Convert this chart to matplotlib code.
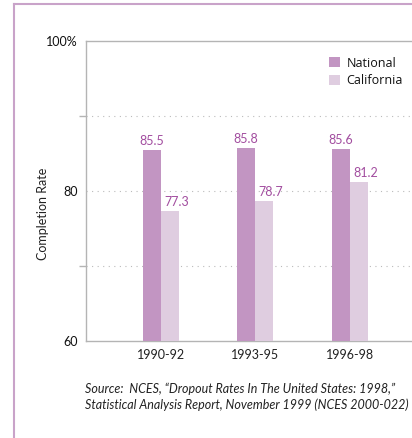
import matplotlib.pyplot as plt
from matplotlib.lines import Line2D
import numpy as np

periods = ["1990-92", "1993-95", "1996-98"]
national = [85.5, 85.8, 85.6]
california = [77.3, 78.7, 81.2]

NAT_COLOR = "#c295c2"
CAL_COLOR = "#dfcde0"
LABEL_COLOR = "#a24d9f"
BORDER_COLOR = "#c9a3c9"
SPINE_COLOR = "#b4b4b4"

plt.rcParams["font.family"] = ["Lato", "DejaVu Sans"]

fig = plt.figure(figsize=(4.12, 4.38), dpi=100)
W, H = 412, 438
ax = fig.add_axes([86 / W, 1 - 341 / H, (430 - 86) / W, (341 - 41) / H])

x = np.arange(len(periods))
w = 0.19
b1 = ax.bar(x - w / 2, national, w, color=NAT_COLOR, label="National", zorder=3)
b2 = ax.bar(x + w / 2, california, w, color=CAL_COLOR, label="California", zorder=3)

# value labels; the California ones sit a little right of their bars
for bars, dx in ((b1, 0), (b2, 5)):
    for rect in bars:
        ax.annotate(f"{rect.get_height():.1f}",
                    (rect.get_x() + rect.get_width() / 2, rect.get_height()),
                    xytext=(dx, 2), textcoords="offset points",
                    ha="center", va="bottom", color=LABEL_COLOR, fontsize=9)

ax.set_xlim(-0.79, 2.85)
ax.set_ylim(60, 100)
ax.set_xticks(x)
ax.set_xticklabels(periods, fontsize=9, color="#222222")
ax.tick_params(axis="x", length=0, pad=6)

ax.set_yticks([60, 80, 100])
ax.set_yticklabels(["60", "80", "100%"], fontsize=9, color="#111111")
ax.set_yticks([70, 90], minor=True)
ax.tick_params(axis="y", which="major", length=0, pad=6)
ax.tick_params(axis="y", which="minor", length=5, color=SPINE_COLOR, width=1)
for yv in (70, 80, 90):
    ax.axhline(yv, color="#bbbbbb", linestyle=(0, (1, 4)), linewidth=0.8, zorder=1)

for side in ("left", "bottom", "top"):
    ax.spines[side].set_color(SPINE_COLOR)
    ax.spines[side].set_linewidth(1)
ax.spines["right"].set_visible(False)

ax.set_ylabel("Completion Rate", fontsize=9, color="#222222", va="center")
ax.yaxis.set_label_coords(-0.125, 0.423)

leg = ax.legend(loc="upper left", bbox_to_anchor=(0.675, 0.985), frameon=False,
                prop={"family": "Open Sans", "size": 9},
                handlelength=0.85, handleheight=0.85, handletextpad=0.5,
                labelspacing=0.35)
for t in leg.get_texts():
    t.set_color("#111111")

fig.text(85 / W, 1 - 397 / H,
         "Source:  NCES, \u201cDropout Rates In The United States: 1998,\u201d\n"
         "Statistical Analysis Report, November 1999 (NCES 2000-022)",
         fontsize=9, style="italic", color="#222222", va="center", linespacing=1.3)

# page border
fig.add_artist(Line2D([14 / W, 14 / W], [0, 1 - 4 / H], color=BORDER_COLOR, lw=1.5))
fig.add_artist(Line2D([14 / W, 1], [1 - 4 / H, 1 - 4 / H], color=BORDER_COLOR, lw=1.5))

fig.savefig("out.png", dpi=100)
